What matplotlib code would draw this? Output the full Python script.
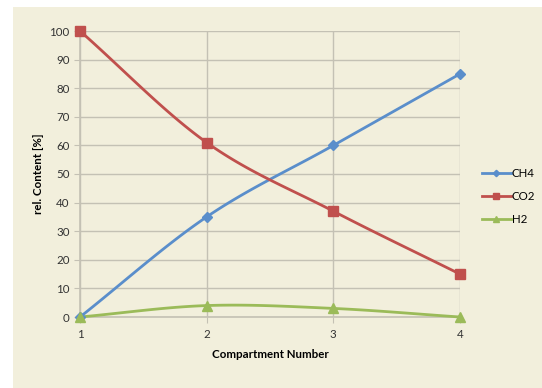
import numpy as np
import matplotlib
matplotlib.use('Agg')
import matplotlib.pyplot as plt
from matplotlib.patches import Rectangle

compartments = [1, 2, 3, 4]
ch4 = [0, 35, 60, 85]
co2 = [100, 61, 37, 15]
h2 = [0, 4, 3, 0]

BG = '#F2EFDC'
GRID = '#C4C1B4'

plt.rcParams['font.family'] = ['Lato', 'DejaVu Sans']


def smooth(x, y, n=30):
    # Catmull-Rom spline through the points, like a spreadsheet "smoothed line"
    x = np.asarray(x, float)
    y = np.asarray(y, float)
    px = np.concatenate([[2 * x[0] - x[1]], x, [2 * x[-1] - x[-2]]])
    py = np.concatenate([[2 * y[0] - y[1]], y, [2 * y[-1] - y[-2]]])
    xs, ys = [], []
    t = np.linspace(0, 1, n)
    for i in range(1, len(px) - 2):
        for p, out in ((px, xs), (py, ys)):
            p0, p1, p2, p3 = p[i - 1], p[i], p[i + 1], p[i + 2]
            seg = 0.5 * ((2 * p1) + (-p0 + p2) * t
                         + (2 * p0 - 5 * p1 + 4 * p2 - p3) * t ** 2
                         + (-p0 + 3 * p1 - 3 * p2 + p3) * t ** 3)
            out.extend(seg)
    return np.array(xs), np.array(ys)


fig = plt.figure(figsize=(5.42, 3.88), dpi=100)
fig.patch.set_facecolor('white')
fig.patches.append(Rectangle((13 / 542, 0), 1, 1 - 7 / 388, transform=fig.transFigure,
                             facecolor=BG, edgecolor='none', zorder=-1))

ax = fig.add_axes([80 / 542, 71 / 388, 380 / 542, 286 / 388])
ax.set_facecolor(BG)

series = [
    ('CH4', ch4, '#5A8ECB', 'D', 5),
    ('CO2', co2, '#C0504D', 's', 6.5),
    ('H2', h2, '#9BBB59', '^', 7.5),
]
for name, vals, color, marker, ms in series:
    sx, sy = smooth(compartments, vals)
    ax.plot(sx, sy, color=color, lw=2, zorder=3, clip_on=False)
    ax.plot(compartments, vals, ls='none', marker=marker, ms=ms, color=color,
            zorder=4, clip_on=False)
    ax.plot([], [], color=color, lw=2, marker=marker, ms=ms * 0.65, label=name)

ax.set_xlim(1, 4)
ax.set_ylim(0, 100)
ax.set_xticks(compartments)
ax.set_yticks(range(0, 101, 10))
ax.grid(True, color=GRID, lw=1)
ax.set_axisbelow(True)
for side in ['top', 'right']:
    ax.spines[side].set_visible(False)
for side in ['left', 'bottom']:
    ax.spines[side].set_color(GRID)
    ax.spines[side].set_linewidth(1.2)
ax.tick_params(axis='both', colors=GRID, labelcolor='#333333', labelsize=8.3, length=4)
ax.tick_params(axis='x', pad=5)

ax.set_xlabel('Compartment Number', fontsize=8.3, fontweight='bold', labelpad=6)
ax.set_ylabel('rel. Content [%]', fontsize=8.3, fontweight='bold', labelpad=4)

ax.legend(loc='center left', bbox_to_anchor=(1.03, 0.42), frameon=False, fontsize=8.3,
          handlelength=2.5, handletextpad=0.1, labelspacing=1.05)

fig.savefig('out.png', dpi=100, facecolor=fig.get_facecolor())
